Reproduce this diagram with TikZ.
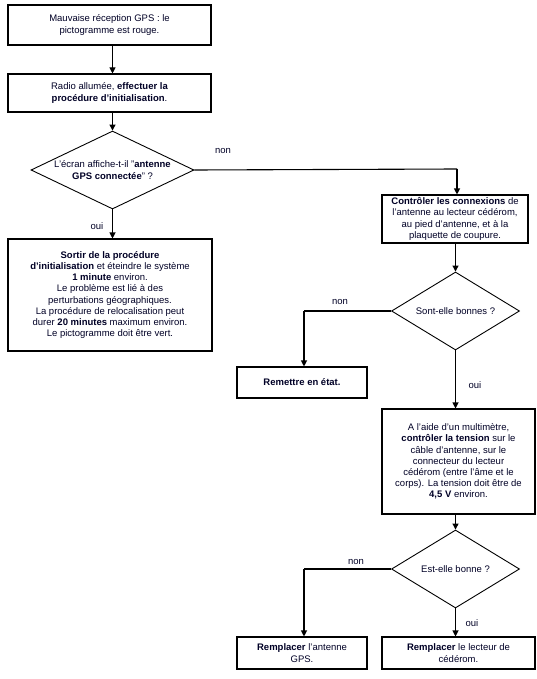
\documentclass[tikz,border=0pt]{standalone}
\usepackage{fontspec}
\setmainfont{Liberation Sans}
\usetikzlibrary{shapes.geometric,arrows.meta}
\begin{document}
\begin{tikzpicture}[x=1pt,y=-1pt,
  every node/.style={font=\fontsize{9.5}{11.2}\selectfont, text=black!85!blue},
  boxn/.style={draw=black, line width=1.1pt, rectangle, align=center, inner sep=0pt, minimum width=#1},
  dia/.style={draw=black, line width=0.9pt, diamond, inner sep=0pt, minimum width=#1, minimum height=78},
  dtext/.style={align=center, inner sep=0pt},
  conn/.style={draw=black, line width=1.1pt},
  arr/.style={conn, -{Triangle[length=6pt,width=6pt]}},
  lab/.style={inner sep=0pt}
]
\useasboundingbox (0,0) rectangle (537,679);
\fill[white] (0,0) rectangle (537,679);

\node[boxn=203, minimum height=40] (b1) at (109.5,25) {Mauvaise réception GPS : le\\pictogramme est rouge.};
\node[boxn=203, minimum height=38] (b2) at (109.5,93) {Radio allumée, \textbf{effectuer la}\\\textbf{procédure d'initialisation}.};
\node[dia=163] (d1) at (112.5,170) {};
\node[dtext] (t1) at (d1.center) {L'écran affiche-t-il "\textbf{antenne}\\\textbf{GPS connectée}" ?};
\node[boxn=204, minimum height=112] (b3) at (110,295) {\textbf{Sortir de la procédure}\\\textbf{d'initialisation} et éteindre le système\\\textbf{1 minute} environ.\\Le problème est lié à des\\perturbations géographiques.\\La procédure de relocalisation peut\\durer \textbf{20 minutes} maximum environ.\\Le pictogramme doit être vert.};
\node[boxn=146, minimum height=48] (b4) at (455,219) {\textbf{Contrôler les connexions} de\\l'antenne au lecteur cédérom,\\au pied d'antenne, et à la\\plaquette de coupure.};
\node[dia=128] (d2) at (455.5,311) {};
\node[dtext] (t2) at (d2.center) {Sont-elle bonnes ?};
\node[boxn=130, minimum height=31] (b5) at (302,382.5) {\textbf{Remettre en état.}};
\node[boxn=153, minimum height=105] (b6) at (458.5,461.5) {A l'aide d'un multimètre,\\\textbf{contrôler la tension} sur le\\câble d'antenne, sur le\\connecteur du lecteur\\cédérom (entre l'âme et le\\corps). La tension doit être de\\\textbf{4,5 V} environ.};
\node[dia=128] (d3) at (455.5,569) {};
\node[dtext] (t3) at (d3.center) {Est-elle bonne ?};
\node[boxn=130, minimum height=32] (b7) at (302,653) {\textbf{Remplacer} l'antenne\\GPS.};
\node[boxn=153, minimum height=32] (b8) at (458.5,653) {\textbf{Remplacer} le lecteur de\\cédérom.};

\coordinate (c1) at (457,169);
\coordinate (c2) at (304,311);
\coordinate (c3) at (304,569);

\draw[arr] (b1.south -| d1) -- (b2.north -| d1);
\draw[arr] (b2.south -| d1) -- (d1.north);
\draw[arr] (d1.south) -- (b3.north -| d1);
\draw[conn] (d1.east) -- (c1);
\draw[arr] (c1) -- (b4.north -| c1);
\draw[arr] (b4.south -| d2) -- (d2.north);
\draw[conn] (d2.west) -- (c2);
\draw[arr] (c2) -- (b5.north -| c2);
\draw[arr] (d2.south) -- (b6.north -| d2);
\draw[arr] (b6.south -| d3) -- (d3.north);
\draw[conn] (d3.west) -- (c3);
\draw[arr] (c3) -- (b7.north -| c3);
\draw[arr] (d3.south) -- (b8.north -| d3);

\node[lab] (n1) at (223,151) {non};
\node[lab] (o1) at (97,226) {oui};
\node[lab] (n2) at (340,302) {non};
\node[lab] (o2) at (475,385) {oui};
\node[lab] (n3) at (356,562) {non};
\node[lab] (o3) at (472,623) {oui};
\end{tikzpicture}
\end{document}
